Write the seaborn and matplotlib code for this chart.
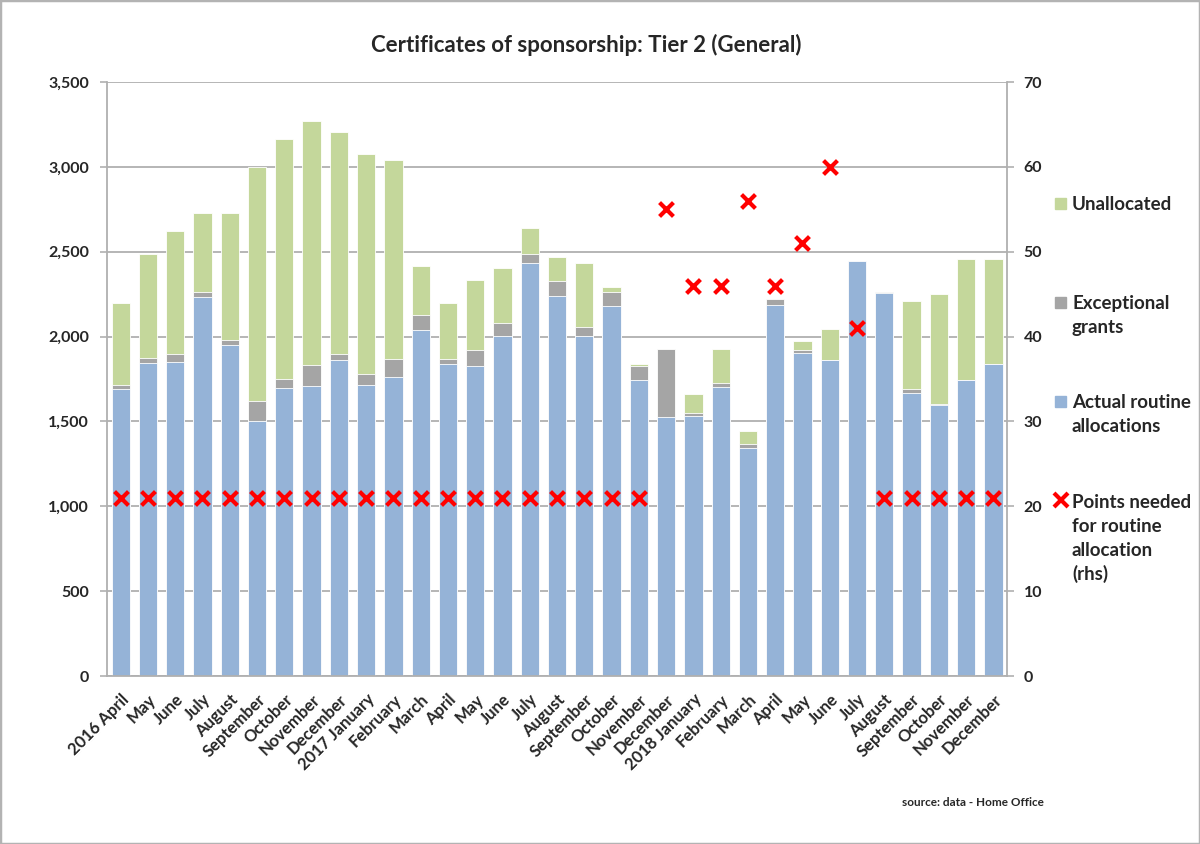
import numpy as np
import pandas as pd
import matplotlib
matplotlib.use("Agg")
import matplotlib.pyplot as plt
from matplotlib.patches import Rectangle
from matplotlib.ticker import FuncFormatter, MultipleLocator
import seaborn as sns

months = ["2016 April", "May", "June", "July", "August", "September", "October",
          "November", "December", "2017 January", "February", "March", "April",
          "May", "June", "July", "August", "September", "October", "November",
          "December", "2018 January", "February", "March", "April", "May", "June",
          "July", "August", "September", "October", "November", "December"]
keys = ["2016-04", "2016-05", "2016-06", "2016-07", "2016-08", "2016-09", "2016-10",
        "2016-11", "2016-12", "2017-01", "2017-02", "2017-03", "2017-04", "2017-05",
        "2017-06", "2017-07", "2017-08", "2017-09", "2017-10", "2017-11", "2017-12",
        "2018-01", "2018-02", "2018-03", "2018-04", "2018-05", "2018-06", "2018-07",
        "2018-08", "2018-09", "2018-10", "2018-11", "2018-12"]

routine = [1690, 1846, 1852, 2234, 1951, 1504, 1699, 1707, 1862, 1716, 1764, 2041,
           1841, 1829, 2004, 2435, 2240, 2006, 2181, 1746, 1524, 1533, 1705, 1342,
           2187, 1905, 1860, 2444, 2255, 1669, 1598, 1744, 1836]
exceptional = [22, 28, 46, 28, 29, 118, 51, 128, 36, 65, 102, 89, 25, 94, 79, 49, 87,
               49, 81, 79, 401, 14, 19, 28, 34, 14, 0, 3, 5, 20, 2, 3, 3]
unallocated = [488, 612, 722, 467, 749, 1378, 1412, 1433, 1309, 1294, 1172, 287, 331,
               408, 323, 154, 142, 378, 29, 12, 0, 116, 205, 71, 0, 55, 187, 0, 0,
               520, 654, 712, 620]
points = [21, 21, 21, 21, 21, 21, 21, 21, 21, 21, 21, 21, 21, 21, 21, 21, 21, 21, 21,
          21, 55, 46, 46, 56, 46, 51, 60, 41, 21, 21, 21, 21, 21]

GREEN = "#c4d79b"
GREY = "#a5a5a5"
BLUE = "#95b3d7"
RED = "#ff0000"
LINE = "#b0b0b0"

df = pd.DataFrame({"key": keys, "routine": routine,
                   "exceptional": exceptional, "unallocated": unallocated})
df["with_exc"] = df["routine"] + df["exceptional"]
df["total"] = df["with_exc"] + df["unallocated"]

sns.set_theme(style="white")
plt.rcParams["font.family"] = ["Lato", "DejaVu Sans"]
plt.rcParams["font.weight"] = "bold"

fig = plt.figure(figsize=(12, 8.44), dpi=100)
ax = fig.add_axes([0.0892, 0.199, 0.75, 0.7038])

# stacked look: draw tallest first, then overlay the lower segments
for col, colour in [("total", GREEN), ("with_exc", GREY), ("routine", BLUE)]:
    sns.barplot(data=df, x="key", y=col, order=keys, color=colour, saturation=1,
                width=0.67, edgecolor="white", linewidth=0.6, ax=ax, zorder=2)

ax.set_ylim(0, 3500)
ax.set_xlim(-0.5, len(keys) - 0.5)
ax.yaxis.set_major_locator(MultipleLocator(500))
ax.yaxis.set_major_formatter(FuncFormatter(lambda v, p: f"{int(v):,}"))
ax.grid(axis="y", color=LINE, linewidth=1.3, zorder=0)
ax.set_axisbelow(True)
ax.set_xlabel("")
ax.set_ylabel("")
ax.set_xticks(range(len(keys)))
ax.set_xticklabels(months, rotation=45, ha="right", rotation_mode="anchor",
                   fontsize=12, fontweight="bold")
ax.set_xticks(np.arange(-0.5, len(keys), 1), minor=True)
ax.tick_params(axis="x", which="major", length=0, pad=11)
ax.tick_params(axis="x", which="minor", length=5, color=LINE, width=1.2)
ax.tick_params(axis="y", length=5, color=LINE, width=1.2, labelsize=11.5, pad=8)
for lab in ax.get_yticklabels():
    lab.set_fontweight("bold")
for s in ["left", "bottom", "right"]:
    ax.spines[s].set_color(LINE)
    ax.spines[s].set_linewidth(1.3)
ax.spines["top"].set_visible(False)

ax2 = ax.twinx()
sns.scatterplot(x=np.arange(len(keys)), y=points, marker="x", color=RED, s=100,
                linewidth=3, ax=ax2, zorder=5, legend=False)
ax2.set_ylim(0, 70)
ax2.set_xlim(-0.5, len(keys) - 0.5)
ax2.yaxis.set_major_locator(MultipleLocator(10))
ax2.tick_params(axis="y", length=5, color=LINE, width=1.2, labelsize=11.5, pad=7)
for lab in ax2.get_yticklabels():
    lab.set_fontweight("bold")
for s in ["left", "bottom", "right", "top"]:
    ax2.spines[s].set_visible(False)
ax2.grid(False)

fig.text(586 / 1200, 1 - 45 / 844, "Certificates of sponsorship: Tier 2 (General)",
         ha="center", va="center", fontsize=16, fontweight="bold")
fig.text(973 / 1200, 1 - 803 / 844, "source: data - Home Office",
         ha="center", va="center", fontsize=8.5, fontweight="bold")

# legend drawn by hand to keep Excel's layout
W, H = 1200, 844
legend_items = [
    (["Unallocated"], 204, GREEN),
    (["Exceptional", "grants"], 303, GREY),
    (["Actual routine", "allocations"], 402, BLUE),
    (["Points needed", "for routine", "allocation", "(rhs)"], 502, None),
]
for lines, y0, colour in legend_items:
    if colour is None:
        fig.lines.append(plt.Line2D([1061 / W], [1 - (y0 - 2) / H], marker="x",
                                    color=RED, markersize=10, markeredgewidth=3,
                                    transform=fig.transFigure, figure=fig))
    else:
        fig.patches.append(Rectangle((1055 / W, 1 - (y0 + 5) / H), 11 / W, 11 / H,
                                     transform=fig.transFigure, color=colour, figure=fig))
    for i, line in enumerate(lines):
        fig.text(1072 / W, 1 - (y0 + i * 24) / H, line, ha="left", va="center",
                 fontsize=13.5, fontweight="bold")

fig.patches.append(Rectangle((0, 0), 1, 1, transform=fig.transFigure, fill=False,
                             edgecolor="#b3b3b3", linewidth=2.5, figure=fig))

fig.savefig("out.png", dpi=100)
